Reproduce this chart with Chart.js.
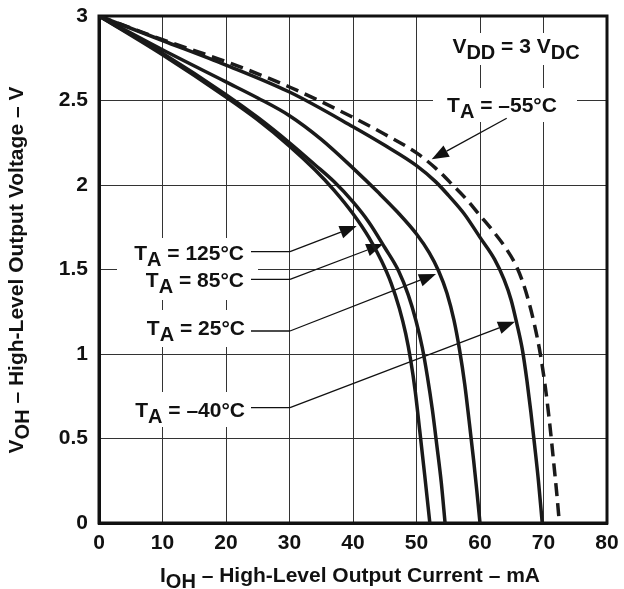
<!DOCTYPE html>
<html>
<head>
<meta charset="utf-8">
<script src="https://cdn.jsdelivr.net/npm/chart.js@4"></script>
<style>
  html, body { margin: 0; padding: 0; background: #fff; }
  #wrap { width: 624px; height: 589px; }
</style>
</head>
<body>
<div id="wrap"><canvas id="chart" width="624" height="589"></canvas></div>
<script>
// I_OH (mA) vs V_OH (V), one pair of arrays per temperature
const cur125 = [0, 10, 20, 25, 30, 34, 37, 40, 42.5, 44.5, 46, 47.3, 48.3, 49.1, 49.8, 50.5, 51.3, 52.1];
const volt125 = [3, 2.77, 2.52, 2.385, 2.23, 2.09, 1.97, 1.83, 1.69, 1.55, 1.42, 1.27, 1.12, 0.96, 0.78, 0.55, 0.28, 0];

const cur85 = [0, 10, 20, 25, 30, 34, 37, 40, 42.5, 45, 47.2, 48.7, 49.9, 50.9, 51.7, 52.5, 53.2, 53.9, 54.5];
const volt85 = [3, 2.78, 2.535, 2.4, 2.25, 2.12, 2.02, 1.9, 1.78, 1.63, 1.49, 1.35, 1.2, 1.04, 0.87, 0.67, 0.46, 0.24, 0];

const cur25 = [0, 10, 20, 25, 30, 35, 40, 44, 47, 50, 52, 53.5, 54.8, 55.9, 56.8, 57.6, 58.3, 59, 59.5, 60];
const volt25 = [3, 2.8, 2.61, 2.515, 2.41, 2.27, 2.1, 1.955, 1.84, 1.71, 1.6, 1.49, 1.36, 1.2, 1.02, 0.82, 0.6, 0.37, 0.19, 0];

const curM40 = [0, 10, 20, 30, 40, 45, 50, 53, 55, 57.5, 60, 62.3, 63.8, 64.9, 65.8, 66.7, 67.4, 68, 68.6, 69.2, 69.8];
const voltM40 = [3, 2.855, 2.71, 2.55, 2.345, 2.235, 2.115, 2.02, 1.94, 1.83, 1.69, 1.56, 1.44, 1.32, 1.18, 1.02, 0.84, 0.66, 0.46, 0.25, 0];

const curM55 = [0, 10, 20, 30, 40, 45, 50, 53, 55.7, 58, 60, 62, 64, 65.6, 66.6, 67.6, 68.6, 69.5, 70.3, 71, 71.6, 72.1, 72.5];
const voltM55 = [3, 2.86, 2.73, 2.58, 2.4, 2.3, 2.19, 2.1, 2.0, 1.91, 1.82, 1.73, 1.63, 1.53, 1.44, 1.32, 1.17, 1.0, 0.8, 0.58, 0.36, 0.17, 0];

const xTickLabels = ['0', '10', '20', '30', '40', '50', '60', '70', '80'];
const yTickLabels = ['0', '0.5', '1', '1.5', '2', '2.5', '3'];

const FONT_FAMILY = '"Liberation Sans", Arial, sans-serif';
const mainFont = 'bold 21px ' + FONT_FAMILY;
const subFont = 'bold 20px ' + FONT_FAMILY;

function toPoints(xs, ys) {
  return xs.map((x, i) => ({ x: x, y: ys[i] }));
}

// text with subscripts, y is the baseline
function drawRich(ctx, parts, x, y, align) {
  let w = 0;
  parts.forEach(p => {
    ctx.font = p.sub ? subFont : mainFont;
    w += ctx.measureText(p.t).width;
  });
  let cx = x;
  if (align === 'right') cx = x - w;
  if (align === 'center') cx = x - w / 2;
  ctx.textAlign = 'left';
  ctx.textBaseline = 'alphabetic';
  parts.forEach(p => {
    ctx.font = p.sub ? subFont : mainFont;
    ctx.fillText(p.t, cx, p.sub ? y + 6 : y);
    cx += ctx.measureText(p.t).width;
  });
}

function drawArrow(ctx, x1, y1, x2, y2) {
  const ang = Math.atan2(y2 - y1, x2 - x1);
  const len = 17, half = 6.5;
  const bx = x2 - len * Math.cos(ang), by = y2 - len * Math.sin(ang);
  ctx.beginPath();
  ctx.moveTo(x1, y1);
  ctx.lineTo(bx, by);
  ctx.lineWidth = 1.3;
  ctx.stroke();
  ctx.beginPath();
  ctx.moveTo(x2, y2);
  ctx.lineTo(bx + half * Math.sin(ang), by - half * Math.cos(ang));
  ctx.lineTo(bx - half * Math.sin(ang), by + half * Math.cos(ang));
  ctx.closePath();
  ctx.fill();
}

const annotations = {
  id: 'annotations',
  beforeDatasetsDraw(chart) {
    const ctx = chart.ctx;
    const a = chart.chartArea;
    ctx.save();
    // white patches behind labels break the grid
    ctx.fillStyle = '#fff';
    ctx.fillRect(440, 33, 150, 32);
    ctx.fillRect(433, 88, 144, 34);
    ctx.fillRect(117, 238, 141, 62);
    ctx.fillRect(117, 310, 141, 37);
    ctx.fillRect(117, 392, 141, 35);

    // frame
    ctx.strokeStyle = '#111';
    ctx.lineWidth = 3;
    ctx.strokeRect(a.left, a.top, a.right - a.left, a.bottom - a.top);

    ctx.fillStyle = '#111';
    drawRich(ctx, [{ t: 'V' }, { t: 'DD', sub: true }, { t: ' = 3 V' }, { t: 'DC', sub: true }], 516, 53, 'center');
    drawRich(ctx, [{ t: 'T' }, { t: 'A', sub: true }, { t: ' = \u201355\u00B0C' }], 502, 112, 'center');
    drawRich(ctx, [{ t: 'T' }, { t: 'A', sub: true }, { t: ' = 125\u00B0C' }], 244, 260, 'right');
    drawRich(ctx, [{ t: 'T' }, { t: 'A', sub: true }, { t: ' = 85\u00B0C' }], 244, 287, 'right');
    drawRich(ctx, [{ t: 'T' }, { t: 'A', sub: true }, { t: ' = 25\u00B0C' }], 245, 335, 'right');
    drawRich(ctx, [{ t: 'T' }, { t: 'A', sub: true }, { t: ' = \u201340\u00B0C' }], 245, 417, 'right');

    // leader lines
    ctx.strokeStyle = '#111';
    ctx.lineWidth = 1.3;
    [[251.7, 356.7, 226], [279.3, 383.3, 244], [331, 436, 274], [407.7, 515, 321.7]].forEach(l => {
      ctx.beginPath();
      ctx.moveTo(251, l[0]);
      ctx.lineTo(290, l[0]);
      ctx.stroke();
      drawArrow(ctx, 290, l[0], l[1], l[2]);
    });
    drawArrow(ctx, 506.7, 118.3, 431.7, 159.3);

    // axis titles
    drawRich(ctx, [{ t: 'I' }, { t: 'OH', sub: true }, { t: ' \u2013 High-Level Output Current \u2013 mA' }], 350, 582, 'center');
    ctx.translate(16, 270);
    ctx.rotate(-Math.PI / 2);
    drawRich(ctx, [{ t: 'V' }, { t: 'OH', sub: true }, { t: ' \u2013 High-Level Output Voltage \u2013 V' }], 0, 7, 'center');
    ctx.restore();
  }
};

function series(xs, ys, dashed) {
  return {
    data: toPoints(xs, ys),
    borderColor: '#1a1a1a',
    borderWidth: 3.5,
    borderDash: dashed ? [13, 7] : [],
    pointRadius: 0,
    cubicInterpolationMode: 'monotone',
    fill: false
  };
}

new Chart(document.getElementById('chart'), {
  type: 'line',
  data: {
    datasets: [
      series(cur125, volt125),
      series(cur85, volt85),
      series(cur25, volt25),
      series(curM40, voltM40),
      series(curM55, voltM55, true)
    ]
  },
  plugins: [annotations],
  options: {
    responsive: false,
    animation: false,
    devicePixelRatio: 1,
    layout: { padding: { left: 0, top: 16, right: 17, bottom: 0 } },
    plugins: { legend: { display: false }, tooltip: { enabled: false } },
    scales: {
      x: {
        type: 'linear',
        min: 0,
        max: 80,
        afterFit: s => {
          s.height = 66;
          s.paddingLeft = 0;
          s.paddingRight = 0;
        },
        afterBuildTicks: s => { s.ticks = xTickLabels.map((t, i) => ({ value: i * 10 })); },
        ticks: {
          callback: (v, i) => xTickLabels[i],
          color: '#111',
          font: { family: FONT_FAMILY, size: 21, weight: 'bold' },
          padding: 8,
          maxRotation: 0
        },
        grid: { color: '#333', lineWidth: 1, drawTicks: false },
        border: { color: '#111', width: 3 }
      },
      y: {
        type: 'linear',
        min: 0,
        max: 3,
        afterFit: s => {
          s.width = 99;
          s.paddingTop = 0;
          s.paddingBottom = 0;
        },
        afterBuildTicks: s => { s.ticks = yTickLabels.map((t, i) => ({ value: i * 0.5 })); },
        ticks: {
          callback: (v, i) => yTickLabels[i],
          color: '#111',
          font: { family: FONT_FAMILY, size: 21, weight: 'bold' },
          padding: 11
        },
        grid: { color: '#333', lineWidth: 1, drawTicks: false },
        border: { color: '#111', width: 3 }
      }
    }
  }
});
</script>
</body>
</html>
